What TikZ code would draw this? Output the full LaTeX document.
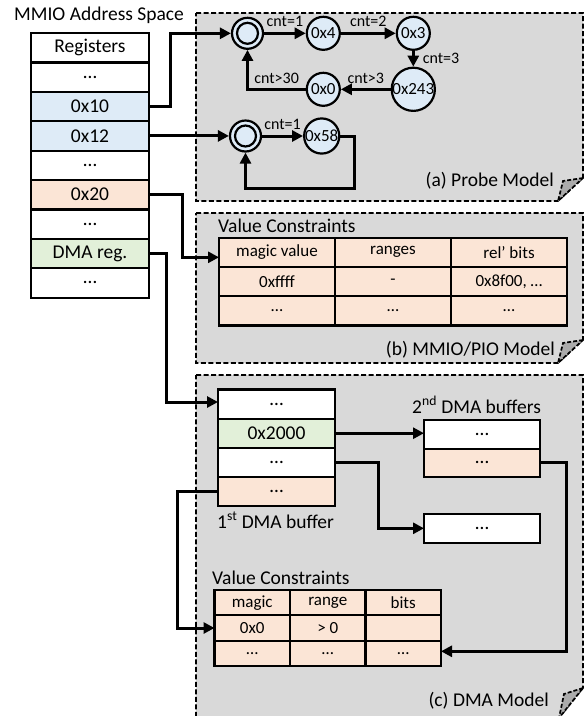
\documentclass[tikz,border=0pt]{standalone}
\usepackage{fontspec}
\setmainfont{Carlito}
\usetikzlibrary{arrows.meta,calc}
\definecolor{cblue}{HTML}{DEEBF7}
\definecolor{cpeach}{HTML}{FBE5D6}
\definecolor{cgreen}{HTML}{E2F0D9}
\definecolor{cpanel}{HTML}{D9D9D9}
\definecolor{cfold}{HTML}{ABABAB}
\begin{document}
\begin{tikzpicture}[x=1pt,y=-1pt,
  big/.style={font=\fontsize{19.5}{22}\selectfont},
  med/.style={font=\fontsize{17}{20}\selectfont},
  sml/.style={font=\fontsize{16}{18}\selectfont},
  regcell/.style={draw, fill=white, line width=2.2pt, minimum width=118pt, minimum height=29.4pt, inner sep=0pt, outer sep=0pt, big},
  tcell/.style={draw, line width=2.2pt, fill=cpeach, inner sep=0pt, outer sep=0pt, med},
  bufcell/.style={draw, fill=white, line width=2.2pt, minimum width=117pt, minimum height=29.2pt, inner sep=0pt, outer sep=0pt, big},
  bcell/.style={draw, fill=white, line width=2.2pt, minimum width=116pt, minimum height=28.6pt, inner sep=0pt, outer sep=0pt, big},
  panel/.style={fill=cpanel, draw, line width=1.7pt, dash pattern=on 5pt off 2.5pt},
  fold/.style={fill=cfold, draw, line width=1.7pt, dash pattern=on 4pt off 2pt},
  conn/.style={line width=3pt, -{Triangle[length=11pt,width=11pt]}},
  state/.style={circle, draw, line width=2.2pt, fill=cblue, minimum size=33pt, inner sep=0pt, med},
  istate/.style={circle, draw, line width=2.2pt, fill=cblue, minimum size=31pt, inner sep=0pt},
  elab/.style={sml, inner sep=1pt}
]
\useasboundingbox (0,0) rectangle (585,716);

% panels
\draw[panel] (196,13) -- (583,13) -- (583,178) -- (558,201) -- (196,201) -- cycle;
\draw[fold] (583,178) -- (563,181) -- (558,201) -- cycle;
\draw[panel] (196,213) -- (583,213) -- (583,340) -- (558,363) -- (196,363) -- cycle;
\draw[fold] (583,340) -- (563,343) -- (558,363) -- cycle;
\draw[panel] (196,375) -- (583,375) -- (583,688) -- (559,718) -- (196,718) -- cycle;
\draw[fold] (583,688) -- (564,694) -- (559,718) -- cycle;

\node[big, anchor=base east, inner sep=0pt] (la) at (554,186) {(a) Probe Model};
\node[big, anchor=base east, inner sep=0pt] (lb) at (555,355) {(b) MMIO/PIO Model};
\node[big, anchor=base east, inner sep=0pt] (lc) at (549,706) {(c) DMA Model};

% register table
\node[big, anchor=base west, inner sep=0pt] (title) at (14,20) {MMIO Address Space};
\node[regcell] (r1) at (90,47.7) {Registers};
\node[regcell] (r2) at (90,77.1) {…};
\node[regcell, fill=cblue] (r3) at (90,106.5) {0x10};
\node[regcell, fill=cblue] (r4) at (90,135.9) {0x12};
\node[regcell] (r5) at (90,165.3) {…};
\node[regcell, fill=cpeach] (r6) at (90,194.7) {0x20};
\node[regcell] (r7) at (90,224.1) {…};
\node[regcell, fill=cgreen] (r8) at (90,253.5) {DMA reg.};
\node[regcell] (r9) at (90,282.9) {…};

% probe model
\node[istate] (i1) at (247.5,33.3) {};
\draw[line width=2.2pt] (i1.center) circle[radius=10.5pt];
\node[state] (s4) at (323.3,33.3) {0x4};
\node[state] (s3) at (413.3,33.3) {0x3};
\node[state] (s243) at (413.3,89.3) {0x243};
\node[state] (s0) at (323.3,89.3) {0x0};
\node[istate] (i2) at (245.5,136) {};
\draw[line width=2.2pt] (i2.center) circle[radius=10.5pt];
\node[state] (s58) at (321.7,136) {0x58};

\draw[conn] (i1) -- (s4) node[midway, above=4pt, elab] {cnt=1};
\draw[conn] (s4) -- (s3) node[midway, above=4pt, elab] {cnt=2};
\draw[conn] (s3) -- (s243) node[midway, right=7pt, elab] {cnt=3};
\draw[conn] (s243) -- (s0) node[midway, above=3pt, elab] {cnt>3};
\draw[conn] (s0.west) -| (i1.south) node[pos=0.25, above=3pt, elab] {cnt>30};
\draw[conn] (i2) -- (s58) node[midway, above=4pt, elab] {cnt=1};
\draw[conn] (s58.east) -| ($(s58.east)+(14,52)$) -| (i2.south);

% MMIO/PIO table
\node[big, anchor=base west, inner sep=0pt] (vc1) at (218,232) {Value Constraints};
\begin{scope}[every node/.append style={tcell, minimum width=116pt, minimum height=29.3pt}]
\node (b11) at (277,252.3) {magic value};
\node (b12) at (393,252.3) {ranges};
\node (b13) at (509,252.3) {rel’ bits};
\node (b21) at (277,281.6) {0xffff};
\node (b22) at (393,281.6) {-};
\node (b23) at (509,281.6) {0x8f00, …};
\node (b31) at (277,310.9) {…};
\node (b32) at (393,310.9) {…};
\node (b33) at (509,310.9) {…};
\end{scope}

% DMA model
\node[bufcell] (d1) at (276.5,404) {…};
\node[bufcell, fill=cgreen] (d2) at (276.5,433.2) {0x2000};
\node[bufcell] (d3) at (276.5,462.4) {…};
\node[bufcell, fill=cpeach] (d4) at (276.5,491.6) {…};
\node[big, anchor=base west, inner sep=0pt] (l1st) at (217,528) {1\textsuperscript{st} DMA buffer};

\node[big, anchor=base west, inner sep=0pt] (l2nd) at (412,413) {2\textsuperscript{nd} DMA buffers};
\node[bcell] (e1) at (482,434.3) {…};
\node[bcell, fill=cpeach] (e2) at (482,462.9) {…};
\node[bcell] (f1) at (482,528.3) {…};

\node[big, anchor=base west, inner sep=0pt] (vc2) at (212,584) {Value Constraints};
\begin{scope}[every node/.append style={tcell, minimum width=75.5pt, minimum height=25.3pt}]
\node (c1a) at (252.25,602.7) {magic};
\node (c1b) at (327.75,602.7) {range};
\node (c1c) at (403.25,602.7) {bits};
\node (c2a) at (252.25,628) {0x0};
\node (c2b) at (327.75,628) {> 0};
\node (c2c) at (403.25,628) {};
\node (c3a) at (252.25,653.3) {…};
\node (c3b) at (327.75,653.3) {…};
\node (c3c) at (403.25,653.3) {…};
\end{scope}

% connectors
\draw[conn] (r3.east) -- ++(21,0) |- (i1.west);
\draw[conn] (r4.east) -- (r4.east -| i2.west);
\draw[conn] (r6.east) -- ++(33,0) |- ([yshift=-5pt]b11.west);
\draw[conn] (r8.east) -- ++(17,0) |- ([yshift=2pt]d1.west);
\draw[conn] (d2.east) -- (d2.east -| e1.west);
\draw[conn] (d3.east) -- ++(43,0) |- (f1.west);
\draw[conn] (e2.east) -- ++(26,0) |- ([yshift=2pt]c3c.east);
\draw[conn] (d4.west) -- ++(-41,0) |- (c2a.west);
\end{tikzpicture}
\end{document}
